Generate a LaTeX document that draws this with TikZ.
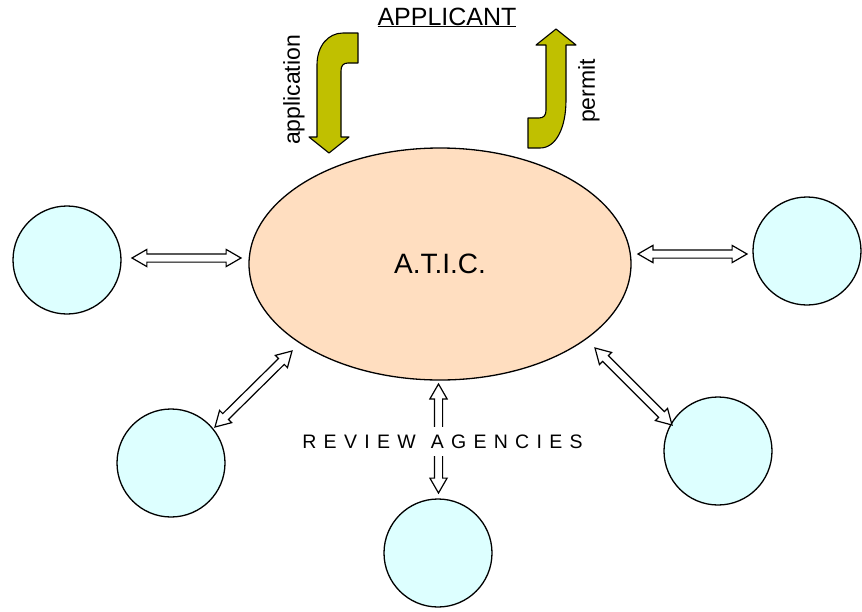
\documentclass[tikz,border=0pt]{standalone}
\usepackage{fontspec}
\setmainfont{Liberation Sans}
\usetikzlibrary{shapes.arrows,shapes.geometric,calc}
\definecolor{oliveY}{HTML}{C0C000}
\definecolor{peach}{HTML}{FFDEC0}
\definecolor{cyanlt}{HTML}{DDFFFF}
\tikzset{
  agency/.style={circle, draw, line width=1.3pt, fill=cyanlt, minimum size=108pt, inner sep=0pt},
  hub/.style={ellipse, draw, line width=1.3pt, fill=peach, minimum width=382pt, minimum height=232pt, inner sep=0pt},
  harrow/.style={double arrow, draw, line width=1.2pt, fill=white, inner xsep=0pt, inner ysep=3.5pt,
    double arrow head extend=4.5pt, double arrow tip angle=60, double arrow head indent=0pt},
  bent/.style={draw, line width=1.1pt, fill=oliveY, line join=round},
  vlabel/.style={rotate=90, inner sep=0pt, font=\fontsize{23}{26}\selectfont}
}
\newcommand\hollowarrow[2]{%
  \path let \p1=($(#2)-(#1)$), \n1={atan2(\y1,\x1)}, \n2={veclen(\x1,\y1)} in
    node[harrow, rotate=\n1, minimum height=\n2] at ($(#1)!0.5!(#2)$) {};}
\newcommand\lsp{\kern7.3pt}
\begin{document}
\begin{tikzpicture}[x=1pt,y=-1pt]
\useasboundingbox (0,0) rectangle (862,611);
% hub and agencies
\node[hub] (atic) at (440,264) {\fontsize{28}{30}\selectfont A.T.I.C.};
\node[agency] (ag1) at (67,260) {};
\node[agency] (ag2) at (807,251) {};
\node[agency] (ag3) at (171,463) {};
\node[agency] (ag4) at (438,553) {};
\node[agency] (ag5) at (718,451) {};
% arrow ends
\coordinate (l1) at (132,258); \coordinate (l2) at (241,258);
\coordinate (r1) at (638,254); \coordinate (r2) at (747,254);
\coordinate (bl1) at (215,427); \coordinate (bl2) at (292,351);
\coordinate (br1) at (595,348); \coordinate (br2) at (672,425);
\coordinate (v1) at (438.5,384); \coordinate (v2) at (438.5,493);
\hollowarrow{l1}{l2}
\hollowarrow{r1}{r2}
\hollowarrow{bl1}{bl2}
\hollowarrow{br1}{br2}
\hollowarrow{v1}{v2}
\node[fill=white, inner xsep=2pt, inner ysep=8pt] (rev) at (442.5,441.5)
  {\fontsize{19.5}{22}\selectfont R\lsp E\lsp V\lsp I\lsp E\lsp W\kern15pt A\lsp G\lsp E\lsp N\lsp C\lsp I\lsp E\lsp S};
% applicant
\node[anchor=base, inner sep=0pt] (app) at (447,25) {\fontsize{25}{28}\selectfont\underline{APPLICANT}};
% bent arrows
\path[bent] (358,33) -- (343,33) .. controls (328,33) and (317,46) .. (317,65)
  -- (317,137) -- (309,137) -- (329,153) -- (349,137) -- (341,137) -- (341,71)
  .. controls (341,66) and (343,63) .. (348,63) -- (358,63) -- cycle;
\path[bent] (528,118) -- (539,118) .. controls (544,118) and (546,115) .. (546,110)
  -- (546,45) -- (536,45) -- (556,29) -- (576,45) -- (566,45) -- (566,100)
  .. controls (566,128) and (556,148) .. (540,148) -- (528,148) -- cycle;
\node[vlabel] (lapp) at (294,90) {application};
\node[vlabel] (lper) at (589,91) {permit};
\end{tikzpicture}
\end{document}
